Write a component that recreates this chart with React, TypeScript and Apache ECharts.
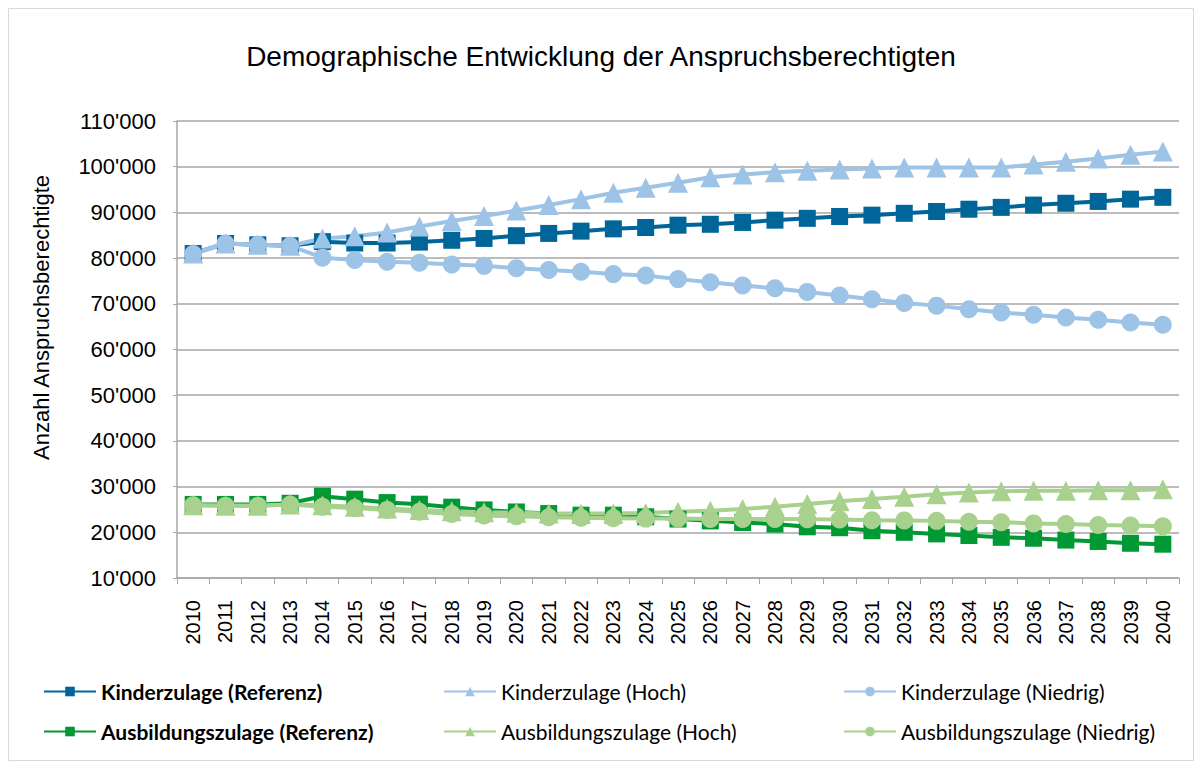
import React, { useEffect, useRef } from "react";
import * as echarts from "echarts";

const years = ["2010","2011","2012","2013","2014","2015","2016","2017","2018","2019","2020","2021","2022","2023","2024","2025","2026","2027","2028","2029","2030","2031","2032","2033","2034","2035","2036","2037","2038","2039","2040"];

const kinderRef = [81000, 83200, 82900, 82700, 83600, 83300, 83300, 83500, 83900, 84300, 84900, 85400, 85900, 86400, 86700, 87200, 87400, 87800, 88300, 88700, 89100, 89400, 89800, 90200, 90700, 91100, 91600, 92000, 92400, 92900, 93300];
const kinderHoch = [81000, 83200, 82900, 82700, 84300, 84800, 85600, 86900, 88100, 89200, 90400, 91600, 92900, 94300, 95400, 96500, 97700, 98300, 98800, 99100, 99400, 99600, 99800, 99800, 99800, 99800, 100500, 101100, 101800, 102600, 103300];
const kinderNiedrig = [80900, 83200, 82900, 82700, 80100, 79600, 79200, 79000, 78600, 78300, 77800, 77400, 77000, 76500, 76200, 75400, 74700, 74000, 73400, 72600, 71800, 71000, 70200, 69600, 68800, 68100, 67600, 67000, 66500, 65900, 65400];
const ausbRef = [26100, 26100, 26100, 26350, 27900, 27250, 26500, 26150, 25500, 24900, 24450, 24100, 23750, 23750, 23400, 22900, 22500, 22150, 21800, 21200, 21000, 20350, 20000, 19650, 19300, 18900, 18700, 18300, 18000, 17600, 17400];
const ausbHoch = [25900, 25800, 25800, 26100, 25900, 25600, 25200, 24900, 24600, 24400, 24300, 24100, 24100, 24100, 24200, 24500, 24700, 25100, 25600, 26200, 26800, 27300, 27800, 28300, 28700, 29000, 29100, 29100, 29200, 29200, 29400];
const ausbNiedrig = [25900, 25800, 25800, 26100, 25600, 25300, 24900, 24500, 24000, 23700, 23500, 23300, 23200, 23100, 23000, 23000, 22900, 22900, 22900, 22850, 22800, 22650, 22600, 22500, 22300, 22200, 21950, 21800, 21600, 21500, 21300];

const names = [
  "Kinderzulage (Referenz)",
  "Kinderzulage (Hoch)",
  "Kinderzulage (Niedrig)",
  "Ausbildungszulage (Referenz)",
  "Ausbildungszulage (Hoch)",
  "Ausbildungszulage (Niedrig)",
];

const DARK_BLUE = "#006699";
const LIGHT_BLUE = "#9DC3E6";
const DARK_GREEN = "#009933";
const LIGHT_GREEN = "#A9D18E";

const AXIS_FONT = "'Liberation Sans', Arial, sans-serif";
const LEGEND_FONT = "Lato, 'Open Sans', sans-serif";

function mkSeries(name: string, data: number[], color: string, symbol: string, size: number) {
  return {
    name,
    type: "line",
    data,
    symbol,
    symbolSize: size,
    lineStyle: { color, width: 4 },
    itemStyle: { color },
    emphasis: { disabled: true },
  };
}

function mkLegend(left: number, data: string[], bold: boolean) {
  return {
    orient: "vertical",
    left,
    top: 668,
    itemWidth: 52,
    itemHeight: 12,
    itemGap: 19,
    data,
    textStyle: {
      fontFamily: LEGEND_FONT,
      fontSize: 21,
      fontWeight: bold ? "bold" : "normal",
      color: "#000",
    },
  };
}

export default function App() {
  const ref = useRef<HTMLDivElement>(null);
  useEffect(() => {
    if (!ref.current) return;
    const chart = echarts.init(ref.current, undefined, { renderer: "svg" });
    chart.setOption({
      animation: false,
      backgroundColor: "#fff",
      title: {
        text: "Demographische Entwicklung der Anspruchsberechtigten",
        left: "center",
        top: 29,
        textStyle: { fontFamily: AXIS_FONT, fontSize: 28, fontWeight: "normal", color: "#000" },
      },
      graphic: [
        {
          type: "rect",
          shape: { x: 0.5, y: 0.5, width: 1185, height: 752 },
          style: { fill: "none", stroke: "#D9D9D9", lineWidth: 1 },
          silent: true,
        },
      ],
      legend: [
        mkLegend(30, [names[0], names[3]], true),
        mkLegend(430, [names[1], names[4]], false),
        mkLegend(830, [names[2], names[5]], false),
      ],
      grid: { left: 169, right: 15, top: 113, bottom: 183 },
      xAxis: {
        type: "category",
        data: years,
        boundaryGap: true,
        axisLine: { lineStyle: { color: "#A6A6A6", width: 1.5 } },
        axisTick: { show: true, length: 6, lineStyle: { color: "#A6A6A6" } },
        axisLabel: {
          rotate: 90,
          margin: 22,
          fontFamily: AXIS_FONT,
          fontSize: 20,
          color: "#000",
          interval: 0,
        },
      },
      yAxis: {
        type: "value",
        min: 10000,
        max: 110000,
        interval: 10000,
        name: "Anzahl Anspruchsberechtigte",
        nameLocation: "middle",
        nameRotate: 90,
        nameGap: 125,
        nameTextStyle: { fontFamily: AXIS_FONT, fontSize: 22, color: "#000", padding: [0, 0, 0, 64] },
        axisLine: { show: true, lineStyle: { color: "#A6A6A6", width: 1.5 } },
        axisTick: { show: true, length: 4, lineStyle: { color: "#A6A6A6" } },
        splitLine: { show: true, lineStyle: { color: "#A6A6A6", width: 1.5 } },
        axisLabel: {
          margin: 21,
          fontFamily: AXIS_FONT,
          fontSize: 22,
          color: "#000",
          formatter: (v: number) => `${Math.round(v / 1000)}'000`,
        },
      },
      series: [
        mkSeries(names[0], kinderRef, DARK_BLUE, "rect", 17),
        mkSeries(names[1], kinderHoch, LIGHT_BLUE, "triangle", 20),
        mkSeries(names[2], kinderNiedrig, LIGHT_BLUE, "circle", 18),
        mkSeries(names[3], ausbRef, DARK_GREEN, "rect", 17),
        mkSeries(names[4], ausbHoch, LIGHT_GREEN, "triangle", 20),
        mkSeries(names[5], ausbNiedrig, LIGHT_GREEN, "circle", 18),
      ],
    });
    return () => chart.dispose();
  }, []);
  return <div ref={ref} style={{ width: 1186, height: 753 }} />;
}
